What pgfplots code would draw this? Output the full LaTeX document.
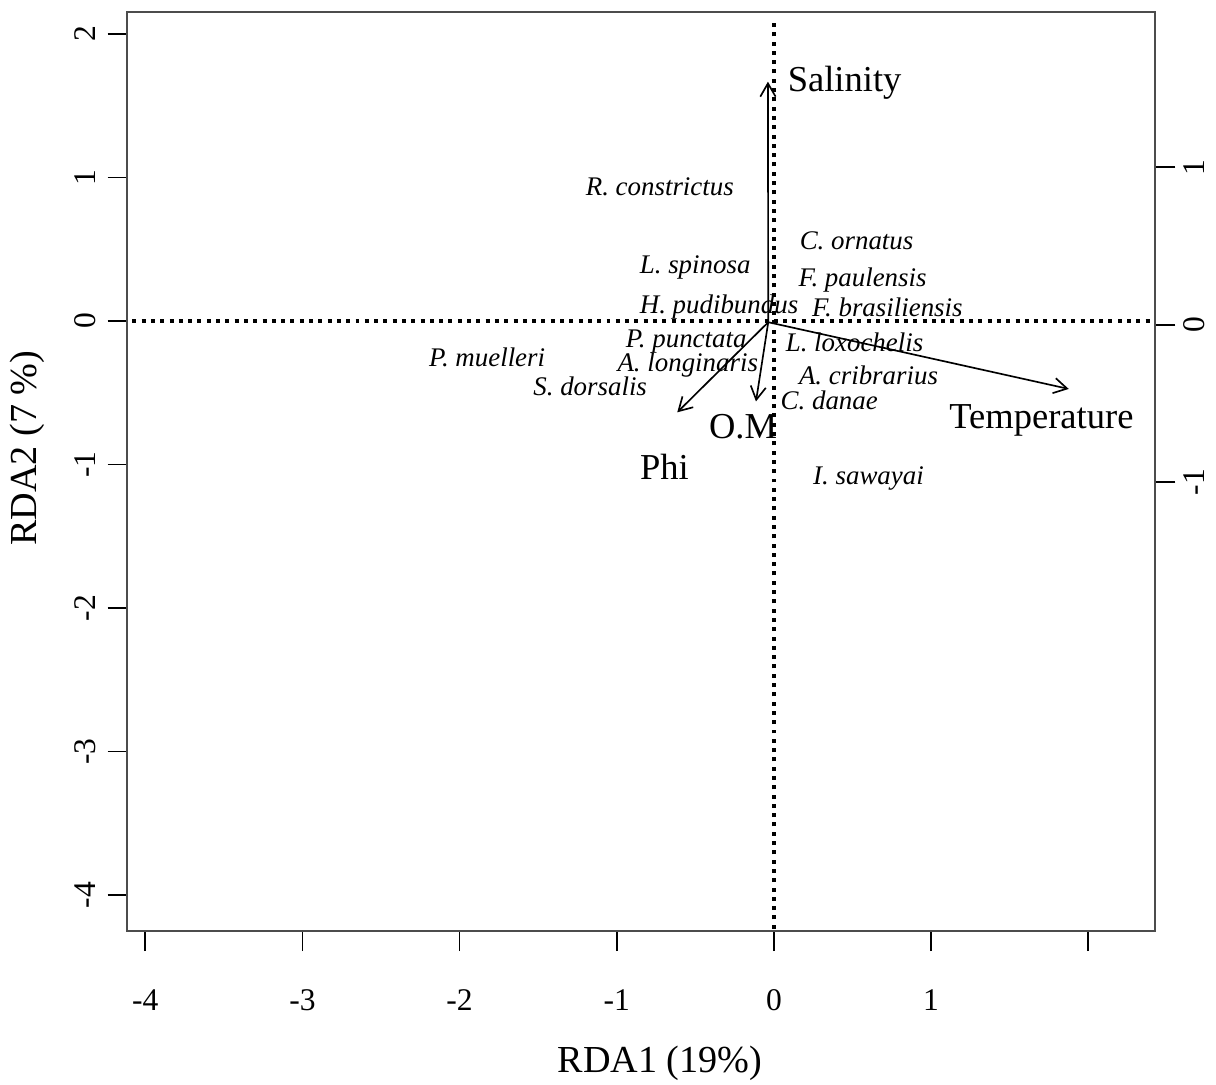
\documentclass[border=0pt]{standalone}
\usepackage{fontspec}
\setmainfont{Liberation Serif}
\usepackage{pgfplots}
\usepackage{pgfplotstable}
\pgfplotsset{compat=1.18}
\usetikzlibrary{arrows.meta}

% species scores (RDA1, RDA2)
\pgfplotstableread[col sep=comma]{
x,y,name
-0.726,0.938,R. constrictus
0.526,0.559,C. ornatus
-0.501,0.376,L. spinosa
0.564,0.286,F. paulensis
-0.349,0.099,H. pudibundus
0.722,0.096,F. brasiliensis
-0.558,-0.142,P. punctata
0.513,-0.146,L. loxochelis
-1.825,-0.255,P. muelleri
-0.548,-0.309,A. longinaris
0.602,-0.378,A. cribrarius
-1.169,-0.457,S. dorsalis
0.352,-0.552,C. danae
0.602,-1.095,I. sawayai
}\species

% environmental variable labels
\pgfplotstableread[col sep=comma]{
x,y,name
0.450,1.660,Salinity
1.702,-0.690,Temperature
-0.697,-1.015,Phi
-0.196,-0.734,O.M
}\envlabels

\begin{document}
\begin{tikzpicture}
\begin{axis}[
  name=ax,
  scale only axis,
  width=309.6pt, height=276.9pt,
  xmin=-4.113, xmax=2.427,
  ymin=-4.253, ymax=2.153,
  axis line style={black!70, line width=0.6pt},
  tick pos=left,
  tick align=outside,
  major tick length=6pt,
  tick style={black, line width=0.5pt},
  xtick={-4,-3,-2,-1,0,1,2},
  xticklabels={-4,-3,-2,-1,0,1,{}},
  ytick={-4,-3,-2,-1,0,1,2},
  yticklabels={-4,-3,-2,-1,0,1,2},
  ticklabel style={font=\fontsize{9.5}{11}\selectfont},
  xticklabel shift=8pt,
  yticklabel style={rotate=90, anchor=south},
  yticklabel shift=0pt,
  xlabel={RDA1 (19\%)},
  ylabel={RDA2 (7 \%)},
  label style={font=\fontsize{11.5}{13}\selectfont, inner sep=0pt},
  xlabel style={at={(axis description cs:0.518,-0.144)}, anchor=center},
  ylabel style={at={(axis description cs:-0.097,0.5255)}, anchor=center},
]
% zero lines
\addplot[black, line width=1.2pt, dash pattern=on 1.2pt off 1.6pt] coordinates {(-4.2,0) (2.5,0)};
\addplot[black, line width=1.2pt, dash pattern=on 1.2pt off 1.6pt] coordinates {(0,-4.3) (0,2.09)};

% biplot arrows
\addplot[black, line width=0.5pt, -{Straight Barb[length=4pt,width=4.6pt]}] coordinates {(-0.036,-0.009) (-0.038,1.667)};
\addplot[black, line width=0.5pt, -{Straight Barb[length=4pt,width=4.6pt]}] coordinates {(-0.036,-0.009) (-0.615,-0.637)};
\addplot[black, line width=0.5pt, -{Straight Barb[length=4pt,width=4.6pt]}] coordinates {(-0.036,-0.009) (-0.114,-0.561)};
\addplot[black, line width=0.5pt, -{Straight Barb[length=4pt,width=4.6pt]}] coordinates {(-0.036,-0.009) (1.876,-0.474)};

% species names
\addplot[only marks, mark=none, point meta=explicit symbolic,
  nodes near coords, nodes near coords align={center},
  every node near coord/.append style={anchor=center, inner sep=0pt,
    font=\fontsize{8.1}{9}\selectfont\itshape}]
  table[x=x, y=y, meta=name] {\species};

% variable names
\addplot[only marks, mark=none, point meta=explicit symbolic,
  nodes near coords, nodes near coords align={center},
  every node near coord/.append style={anchor=center, inner sep=0pt,
    font=\fontsize{11}{13}\selectfont}]
  table[x=x, y=y, meta=name] {\envlabels};
\end{axis}

% right-hand axis (species scale)
\begin{axis}[
  scale only axis,
  width=309.6pt, height=276.9pt,
  xmin=-4.113, xmax=2.427,
  ymin=-3.854, ymax=1.987,
  axis x line=none,
  axis y line*=right,
  axis line style={black!70, line width=0.6pt},
  tick align=outside,
  major tick length=6pt,
  tick style={black, line width=0.5pt},
  ytick={-1,0,1},
  yticklabels={-1,0,1},
  yticklabel style={rotate=90, anchor=north, font=\fontsize{9.5}{11}\selectfont},
  yticklabel shift=-1pt,
]
\end{axis}

\path (ax.south west) ++(-38.4pt,-46.2pt) coordinate (bl);
\path (ax.north east) ++(16.8pt,3.6pt) coordinate (tr);
\path (bl) rectangle (tr);
\end{tikzpicture}
\end{document}
